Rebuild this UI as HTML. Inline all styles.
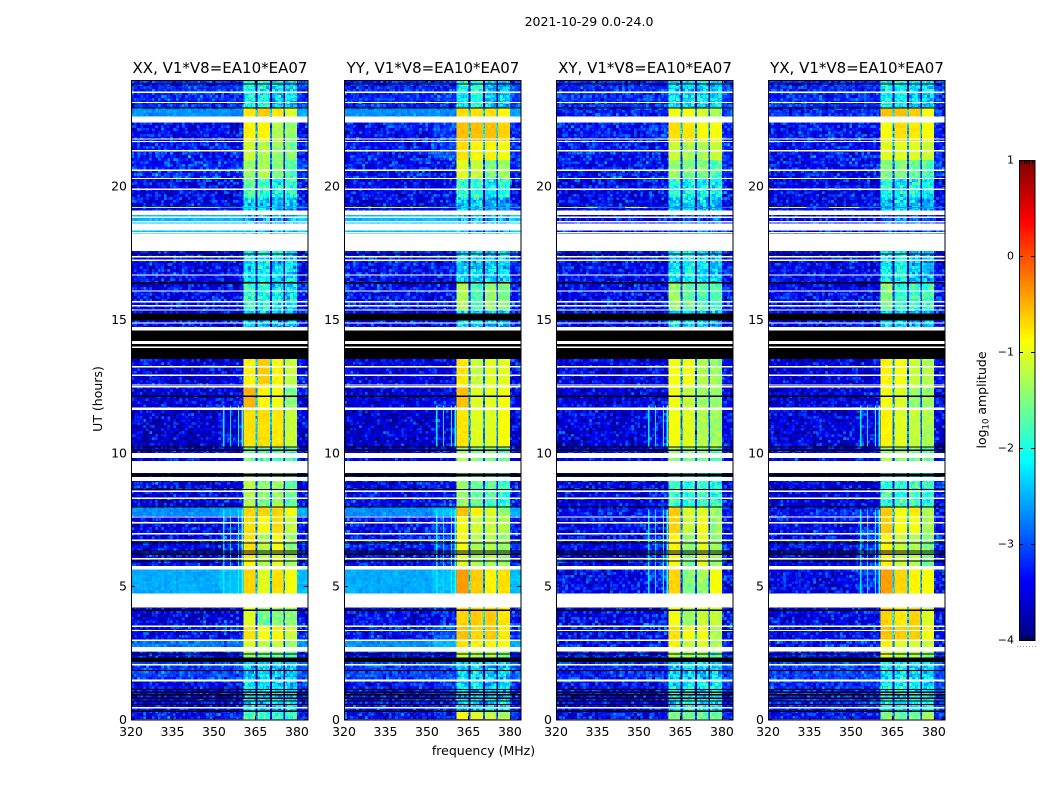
<!DOCTYPE html>
<html>
<head>
<meta charset="utf-8">
<title>2021-10-29 0.0-24.0</title>
<style>
html,body{margin:0;padding:0;background:#fff;width:1050px;height:800px;overflow:hidden}
svg{display:block}
text{font-family:"DejaVu Sans","Liberation Sans",sans-serif;fill:#000}
</style>
</head>
<body>
<svg id="chart" width="1050" height="800" viewBox="0 0 1050 800" xmlns="http://www.w3.org/2000/svg">
  <defs id="defs"></defs>
  <text x="589" y="26" font-size="12.5" text-anchor="middle">2021-10-29 0.0-24.0</text>
  <text x="102" y="399" font-size="12.5" text-anchor="middle" transform="rotate(-90 102 399)">UT (hours)</text>
  <text x="483.5" y="755" font-size="12.5" text-anchor="middle">frequency (MHz)</text>
  <text x="986" y="400" font-size="12.5" text-anchor="middle" transform="rotate(-90 986 400)">log<tspan font-size="8.5" dy="2.5">10</tspan><tspan dy="-2.5"> amplitude</tspan></text>
</svg>
<script>
// ---- data (hours, MHz, log10 amplitude) ----
const panelTitles = ['XX, V1*V8=EA10*EA07','YY, V1*V8=EA10*EA07','XY, V1*V8=EA10*EA07','YX, V1*V8=EA10*EA07'];
const xTickValues = [320,335,350,365,380];
const yTickValues = [0,5,10,15,20];
const colorbarTicks = [1,0,-1,-2,-3,-4];
const freqEdges = [320,352,360.6,365.1,365.7,370.3,370.9,375.1,375.7,380,384];
const timeEdges = [0,0.35,1.45,2.2,2.55,3.0,3.55,4.2,4.74,5.64,6.35,7.0,7.65,8.0,9.26,10.24,11.67,12.5,13.53,15.38,16.4,17.6,19.1,19.6,20.3,21.0,21.7,22.4,22.95,24];
// one row per time band: [background, near-band, subband 1, subband 2, subband 3, subband 4]
const levelsXX = [
[-3.1,-3.1,-1.5,-1.6,-1.7,-1.7],[-3.2,-3.2,-2.0,-2.1,-2.1,-2.1],[-2.9,-2.9,-2.2,-2.1,-2.2,-2.2],[-3.2,-3.2,-1.3,-1.5,-1.5,-1.6],
[-2.7,-2.7,-1.0,-1.2,-1.1,-1.3],[-3.2,-3.1,-0.7,-0.9,-0.8,-1.1],[-3.3,-3.2,-1.0,-1.5,-1.4,-1.4],[-3.2,-3.1,-0.9,-1.2,-0.9,-1.0],
[-2.5,-2.4,-0.65,-1.0,-0.7,-0.9],[-3.2,-3.1,-0.8,-1.2,-1.0,-1.2],[-3.2,-3.1,-0.7,-1.2,-0.9,-1.3],[-3.2,-3.1,-0.7,-0.9,-0.7,-1.1],
[-2.6,-2.5,-0.65,-0.65,-0.65,-0.9],[-3.3,-3.2,-1.2,-1.4,-1.3,-1.5],[-3.3,-3.2,-1.5,-1.6,-1.6,-1.7],[-3.4,-3.3,-0.7,-0.7,-0.75,-1.1],
[-3.3,-3.2,-0.5,-0.8,-0.9,-1.4],[-3.3,-3.3,-0.8,-0.6,-0.8,-1.1],[-3.2,-3.2,-2.1,-2.2,-2.3,-2.4],[-3.2,-3.2,-1.7,-1.8,-1.9,-2.0],
[-3.2,-3.2,-2.0,-1.9,-2.1,-2.1],[-2.4,-2.4,-2.3,-2.3,-2.4,-2.4],[-3.2,-3.2,-2.1,-2.0,-2.3,-2.3],[-3.2,-3.2,-1.6,-1.7,-1.9,-1.7],
[-3.0,-3.0,-1.3,-1.2,-1.4,-1.6],[-3.1,-3.1,-1.1,-1.2,-1.3,-1.4],[-3.2,-3.2,-0.8,-0.8,-1.2,-1.3],[-2.6,-2.6,-0.75,-0.6,-0.75,-1.0],
[-3.0,-3.0,-1.9,-1.9,-2.1,-2.1]];
const levelsYY = [
[-3.1,-3.1,-0.9,-1.0,-1.1,-1.2],[-3.1,-3.0,-2.1,-2.1,-2.2,-2.2],[-2.9,-2.9,-2.2,-2.1,-2.2,-2.1],[-3.2,-3.2,-1.1,-1.2,-1.2,-1.4],
[-2.6,-2.4,-0.7,-0.8,-0.8,-0.9],[-3.1,-2.8,-0.55,-0.65,-0.6,-0.75],[-3.2,-3.1,-0.65,-0.6,-0.6,-0.75],[-3.0,-2.9,-1.0,-1.0,-1.0,-1.0],
[-2.5,-2.4,-0.35,-0.6,-0.8,-0.7],[-3.1,-3.0,-1.0,-1.2,-1.2,-1.3],[-3.1,-3.0,-0.9,-1.2,-1.2,-1.3],[-3.1,-3.0,-0.9,-1.1,-1.1,-1.2],
[-2.6,-2.4,-0.55,-0.8,-1.0,-1.3],[-3.2,-3.1,-1.3,-1.5,-1.6,-1.8],[-3.3,-3.2,-1.2,-1.4,-1.4,-1.6],[-3.4,-3.3,-0.75,-1.0,-1.0,-0.9],
[-3.3,-3.2,-0.55,-1.0,-1.0,-0.9],[-3.3,-3.3,-0.75,-1.1,-1.0,-1.0],[-3.2,-3.2,-2.0,-2.1,-2.2,-2.3],[-3.1,-3.1,-1.2,-1.6,-1.3,-1.4],
[-3.1,-3.1,-2.1,-2.1,-2.2,-2.1],[-2.4,-2.4,-2.3,-2.3,-2.4,-2.4],[-3.2,-3.2,-2.2,-2.1,-2.4,-2.4],[-3.2,-3.2,-1.7,-1.7,-1.9,-1.8],
[-3.1,-3.1,-1.0,-1.1,-1.4,-1.3],[-3.1,-2.9,-0.7,-0.8,-0.8,-0.9],[-3.1,-2.9,-0.55,-0.55,-0.55,-0.65],[-2.6,-2.6,-0.7,-0.7,-0.7,-0.85],
[-3.0,-3.0,-1.9,-1.8,-2.2,-2.2]];
const levelsXY = [
[-3.1,-3.1,-1.4,-1.5,-1.5,-1.5],[-3.2,-3.2,-2.0,-1.9,-2.0,-2.0],[-3.0,-3.0,-2.1,-2.1,-2.2,-2.1],[-3.1,-3.1,-1.2,-1.3,-1.3,-1.6],
[-3.1,-3.0,-0.8,-1.1,-1.0,-1.2],[-3.2,-3.1,-0.7,-0.9,-0.9,-1.2],[-3.2,-3.1,-0.9,-1.3,-1.1,-1.1],[-3.2,-3.1,-0.8,-1.0,-0.9,-1.0],
[-3.2,-3.0,-0.65,-1.4,-1.3,-0.9],[-3.2,-3.0,-0.9,-1.4,-1.0,-1.3],[-3.2,-3.0,-0.8,-1.3,-1.0,-1.3],[-3.2,-3.1,-0.65,-1.1,-0.9,-1.3],
[-3.1,-3.0,-0.6,-1.0,-1.0,-1.3],[-3.3,-3.2,-1.7,-1.7,-1.7,-1.8],[-3.3,-3.2,-1.3,-1.4,-1.4,-1.6],[-3.3,-3.2,-0.9,-1.0,-1.2,-1.3],
[-3.3,-3.2,-0.9,-1.1,-1.3,-1.3],[-3.3,-3.3,-0.9,-0.9,-1.2,-1.3],[-3.2,-3.2,-2.0,-2.1,-2.2,-2.3],[-3.2,-3.2,-1.3,-1.5,-1.6,-1.6],
[-3.2,-3.2,-2.0,-1.9,-2.1,-2.2],[-3.2,-3.2,-2.8,-2.8,-2.8,-2.8],[-3.2,-3.2,-2.1,-2.1,-2.2,-2.3],[-3.2,-3.2,-1.8,-1.9,-1.9,-1.9],
[-3.1,-3.1,-1.3,-1.4,-1.4,-1.6],[-3.1,-3.1,-1.1,-1.2,-1.2,-1.1],[-3.1,-3.0,-0.7,-0.75,-0.9,-0.9],[-3.0,-3.0,-0.9,-0.9,-1.0,-1.2],
[-3.0,-3.0,-2.0,-2.0,-2.1,-2.1]];
const levelsYX = [
[-3.1,-3.1,-1.4,-1.5,-1.5,-1.3],[-3.0,-3.0,-1.9,-1.9,-2.0,-2.0],[-2.9,-2.9,-2.0,-2.0,-2.2,-2.1],[-3.1,-3.1,-1.0,-1.2,-1.2,-1.4],
[-3.1,-3.0,-0.8,-1.0,-1.0,-1.1],[-3.2,-3.1,-0.55,-0.6,-0.6,-0.9],[-3.2,-3.1,-0.65,-0.75,-0.65,-1.0],[-3.2,-3.1,-0.7,-1.0,-1.3,-1.3],
[-3.2,-3.0,-0.4,-0.65,-0.8,-0.9],[-3.2,-3.0,-0.8,-1.1,-1.2,-1.4],[-3.2,-3.0,-0.8,-1.1,-1.2,-1.4],[-3.2,-3.1,-0.6,-0.9,-0.9,-1.2],
[-3.1,-3.0,-0.6,-0.9,-0.75,-1.2],[-3.3,-3.2,-1.7,-1.7,-1.7,-1.8],[-3.3,-3.2,-1.3,-1.4,-1.4,-1.6],[-3.3,-3.2,-0.8,-1.0,-1.1,-1.2],
[-3.3,-3.2,-0.9,-1.0,-1.3,-1.3],[-3.3,-3.3,-0.8,-0.9,-1.1,-1.2],[-3.2,-3.2,-2.0,-2.1,-2.2,-2.3],[-3.2,-3.2,-1.4,-1.7,-1.7,-1.7],
[-3.2,-3.2,-2.0,-1.9,-2.2,-2.2],[-3.2,-3.2,-2.8,-2.8,-2.8,-2.8],[-3.2,-3.2,-2.1,-2.1,-2.2,-2.3],[-3.2,-3.2,-1.8,-1.9,-1.9,-1.9],
[-3.1,-3.1,-1.4,-1.4,-1.5,-1.6],[-3.1,-3.1,-1.0,-1.0,-1.0,-1.1],[-3.1,-3.1,-0.9,-0.7,-0.75,-0.9],[-3.0,-3.0,-0.55,-0.55,-0.6,-0.9],
[-3.0,-3.0,-1.9,-1.9,-2.1,-2.1]];
// flagged time ranges: no data (white) and zeroed data (black), in hours [start,end]
const blankHours = [[0.44,0.49],[1.45,1.52],[2.06,2.1],[2.56,2.73],[2.98,3.02],[3.34,3.38],[3.5,3.54],[4.21,4.74],[5.64,5.78],[6.03,6.07],[6.72,6.76],[6.97,7.01],[7.38,7.42],[7.6,7.64],[8.3,8.34],[8.56,8.6],[8.96,9.11],[9.26,9.71],[9.82,10.02],[11.63,11.71],[12.48,12.52],[12.55,12.59],[12.91,12.95],[13.23,13.27],[13.96,14.0],[14.1,14.22],[14.6,14.74],[14.87,14.91],[15.36,15.4],[15.52,15.56],[15.67,15.71],[16.07,16.11],[16.67,16.71],[17.23,17.27],[17.36,17.4],[17.59,18.22],[18.28,18.3],[18.35,18.62],[18.67,18.71],[18.82,18.88],[18.94,19.1],[19.89,19.93],[20.29,20.33],[20.6,20.64],[21.33,21.37],[21.68,21.72],[21.77,21.81],[22.4,22.63],[23.14,23.18],[23.53,23.57]];
const zeroHours = [[0.31,0.35],[0.56,0.6],[0.7,0.73],[0.81,0.84],[0.94,0.97],[1.03,1.06],[1.14,1.17],[1.85,1.88],[2.17,2.34],[2.47,2.5],[4.09,4.14],[5.94,5.98],[6.2,6.23],[6.25,6.28],[6.33,6.36],[6.62,6.66],[7.97,8.01],[8.63,8.67],[9.15,9.18],[9.21,9.24],[10.11,10.14],[10.22,10.26],[12.12,12.16],[13.53,13.95],[14.0,14.1],[14.22,14.6],[14.98,15.24],[16.38,16.42],[17.46,17.5],[22.93,22.97],[23.83,23.87]];
// narrow interference channels and the hour ranges in which they appear
const spikeChannels = [353.3,355.8,358.7,360];
const spikeHours = [[4.21,7.9],[10.24,11.8]];
const spikeLevels = [-2.2,-2.3,-2.1,-2.0];
// [hour, startMHz, endMHz, level] for the strong interference rows, per panel
const rfiXX = [[19.24,320,384,-2.5],[19.24,320,345,-1.2],[19.24,345,352,-1.6]];
const rfiYY = [[19.24,320,384,-2.5],[19.24,320,350,-1.0],[19.24,350,358,-1.8]];
const rfiXY = [[19.24,320,384,-2.7],[19.24,320,335,-1.2],[19.24,345,353,-1.0]];
const rfiYX = [[19.24,320,384,-2.7],[19.24,320,334,-0.9],[19.24,342,353,-0.9]];
const allLevels = [levelsXX,levelsYY,levelsXY,levelsYX];
const allRfi = [rfiXX,rfiYY,rfiXY,rfiYX];

// ---- layout and scales ----
const svg = document.getElementById('chart');
const defs = document.getElementById('defs');
const NS = 'http://www.w3.org/2000/svg';
const plotLefts = [131,344,556,768];
const plotW = 177, plotTop = 80, plotBottom = 720;
const cbLeft = 1019, cbW = 16, cbTop = 160, cbBottom = 640;
const xScale = (left, mhz) => left + (mhz - 320) * plotW / 64;
const yScale = h => plotBottom - h * (plotBottom - plotTop) / 24;
const cbScale = v => cbBottom - (v + 4) * (cbBottom - cbTop) / 5;
const norm = v => Math.max(0, Math.min(1, (v + 4) / 5));

function jet(v) {
  const t = norm(v);
  const c = x => Math.round(255 * Math.max(0, Math.min(1, x)));
  const r = Math.min(4 * t - 1.5, -4 * t + 4.5);
  const g = Math.min(4 * t - 0.5, -4 * t + 3.5);
  const b = Math.min(4 * t + 0.5, -4 * t + 2.5);
  return 'rgb(' + c(r) + ',' + c(g) + ',' + c(b) + ')';
}
function make(tag, attrs, parent) {
  const el = document.createElementNS(NS, tag);
  for (const k in attrs) el.setAttribute(k, attrs[k]);
  parent.appendChild(el);
  return el;
}
// column index -> index into a level row; gaps and tail derive from their neighbours
function columnLevel(row, col) {
  if (col === 0) return row[0];
  if (col === 1) return row[1];
  if (col === 9) return row[0] + 0.1;
  if (col % 2 === 0) return row[2 + (col - 2) / 2];
  return Math.min(row[2 + (col - 3) / 2], row[2 + (col - 1) / 2]) - 1.5;
}
// weak signals look noisy, strong ones clean
function grainStrength(v, col) {
  if (col < 2 || col === 9) return Math.max(0.2, Math.min(1, (-2.4 - v) / 0.7));
  return Math.max(0.1, Math.min(0.9, (-0.8 - v) / 1.3));
}
// cells are painted with (normalised level, grain strength); the filter adds
// receiver-noise texture (visual only, no data meaning) and then applies the jet colormap
function buildFilter(id, left, seed) {
  const c = 0.7, centre = 0.62;
  const base = 1 - c * (1 - centre);
  const f = make('filter', {id: id, filterUnits: 'userSpaceOnUse', x: left, y: plotTop, width: plotW, height: plotBottom - plotTop, 'color-interpolation-filters': 'sRGB'}, defs);
  make('feColorMatrix', {in: 'SourceGraphic', type: 'matrix', values: '0 1 0 0 0  0 1 0 0 0  0 1 0 0 0  0 0 0 0 1', result: 'amp'}, f);
  make('feColorMatrix', {in: 'SourceGraphic', type: 'matrix', values: '1 0 0 0 0  1 0 0 0 0  1 0 0 0 0  0 0 0 0 1', result: 'level'}, f);
  make('feTurbulence', {type: 'fractalNoise', baseFrequency: 0.83, numOctaves: 1, seed: seed}, f);
  make('feColorMatrix', {type: 'matrix', values: '1 0 0 0 0  1 0 0 0 0  1 0 0 0 0  0 0 0 0 1', result: 'n'}, f);
  make('feFlood', {x: left + 1, y: plotTop + 1, width: 1, height: 1, 'flood-color': '#000'}, f);
  make('feComposite', {x: left, y: plotTop, width: 3, height: 3}, f);
  make('feTile', {result: 'dots'}, f);
  make('feComposite', {in: 'n', in2: 'dots', operator: 'in'}, f);
  make('feMorphology', {operator: 'dilate', radius: 1, result: 'blocks'}, f);
  make('feComposite', {in: 'amp', in2: 'blocks', operator: 'arithmetic', k1: c, k2: -c * centre, k3: 0, k4: base, result: 'delta'}, f);
  make('feComposite', {in: 'level', in2: 'delta', operator: 'arithmetic', k1: 0, k2: 1, k3: 1, k4: -base, result: 'sum'}, f);
  const ct = make('feComponentTransfer', {in: 'sum'}, f);
  make('feFuncR', {type: 'table', tableValues: '0 0 0 0 0.5 1 1 1 0.5'}, ct);
  make('feFuncG', {type: 'table', tableValues: '0 0 0.5 1 1 1 0.5 0 0'}, ct);
  make('feFuncB', {type: 'table', tableValues: '0.5 1 1 1 0.5 0 0 0 0'}, ct);
}

plotLefts.forEach((left, p) => {
  const g = make('g', {'shape-rendering': 'crispEdges'}, svg);
  
  
  const levels = allLevels[p];
  buildFilter('heat' + p, left, p + 3);
  const cells = make('g', {filter: 'url(#heat' + p + ')'}, g);
  
  

  // heatmap cells
  for (let b = 0; b < timeEdges.length - 1; b++) {
    for (let c = 0; c < freqEdges.length - 1; c++) {
      const x0 = xScale(left, freqEdges[c]), x1 = xScale(left, freqEdges[c + 1]);
      const y1 = yScale(timeEdges[b]), y0 = yScale(timeEdges[b + 1]);
      const level = columnLevel(levels[b], c);
      const fill = 'rgb(' + Math.round(255 * norm(level)) + ',' + Math.round(255 * grainStrength(level, c)) + ',0)';
      const cell = make('rect', {x: x0, y: y0, width: x1 - x0, height: y1 - y0, fill: fill}, cells);
      
      
    }
  }

  // interference channels
  spikeHours.forEach(range => {
    spikeChannels.forEach((ch, i) => {
      const s = make('rect', {x: xScale(left, ch), y: yScale(range[1]), width: 1.2, height: yScale(range[0]) - yScale(range[1]), fill: jet(spikeLevels[i])}, g);
      
      
    });
  });
  allRfi[p].forEach(r => {
    const s = make('rect', {x: xScale(left, r[1]), y: yScale(r[0]), width: xScale(left, r[2]) - xScale(left, r[1]), height: 1.2, fill: jet(r[3])}, g);
    
    
  });

  // flagged rows
  blankHours.forEach(r => {
    const s = make('rect', {x: left, y: yScale(r[1]), width: plotW, height: Math.max(1.3, yScale(r[0]) - yScale(r[1])), fill: '#fff'}, g);
    
    
  });
  zeroHours.forEach(r => {
    const s = make('rect', {x: left, y: yScale(r[1]), width: plotW, height: Math.max(1.2, yScale(r[0]) - yScale(r[1])), fill: '#000'}, g);
    
    
  });

  // frame
  const frame = make('rect', {x: left + 0.5, y: plotTop + 0.5, width: plotW - 0.5, height: plotBottom - plotTop - 0.5, fill: 'none', stroke: '#000', 'stroke-width': 1}, svg);
  
  

  // title
  const title = make('text', {x: left + plotW / 2 + 0.5, y: 73, 'font-size': 15, 'text-anchor': 'middle'}, svg);
  title.textContent = panelTitles[p];
  
  

  // x ticks
  xTickValues.forEach(v => {
    const x = Math.round(xScale(left, v)) + 0.5;
    const t1 = make('line', {x1: x, x2: x, y1: plotBottom, y2: plotBottom - 4, stroke: '#000'}, svg);
    
    
    const t2 = make('line', {x1: x, x2: x, y1: plotTop, y2: plotTop + 4, stroke: '#000'}, svg);
    
    
    const l = make('text', {x: xScale(left, v), y: 736, 'font-size': 12.5, 'text-anchor': 'middle'}, svg);
    l.textContent = v;
    
    
  });
  // y ticks
  yTickValues.forEach(v => {
    const y = Math.round(yScale(v)) - 0.5;
    const t1 = make('line', {x1: left, x2: left + 4, y1: y, y2: y, stroke: '#000'}, svg);
    
    
    const t2 = make('line', {x1: left + plotW, x2: left + plotW - 4, y1: y, y2: y, stroke: '#000'}, svg);
    
    
    const l = make('text', {x: left - 4, y: yScale(v) + 4, 'font-size': 12.5, 'text-anchor': 'end'}, svg);
    l.textContent = v;
    
    
  });
});

// ---- colorbar ----
const cb = make('g', {'shape-rendering': 'crispEdges'}, svg);


for (let i = 0; i < 240; i++) {
  const v = -4 + 5 * i / 240;
  const s = make('rect', {x: cbLeft, y: cbScale(v + 5 / 240), width: cbW, height: (cbBottom - cbTop) / 240 + 0.5, fill: jet(v + 2.5 / 240)}, cb);
  
  
}
const cbFrame = make('rect', {x: cbLeft + 0.5, y: cbTop + 0.5, width: cbW - 0.5, height: cbBottom - cbTop, fill: 'none', stroke: '#000'}, cb);


colorbarTicks.forEach(v => {
  const y = Math.round(cbScale(v)) + 0.5;
  const t1 = make('line', {x1: cbLeft, x2: cbLeft + 4, y1: y, y2: y, stroke: '#000'}, cb);
  
  
  const t2 = make('line', {x1: cbLeft + cbW, x2: cbLeft + cbW - 4, y1: y, y2: y, stroke: '#000'}, cb);
  
  
  const l = make('text', {x: cbLeft - 5, y: cbScale(v) + 3.5, 'font-size': 11, 'text-anchor': 'end'}, svg);
  l.textContent = v < 0 ? '\u2212' + (-v) : String(v);
  
  
});
for (let i = 1; i < 6; i++) {
  const x = cbLeft + i * cbW / 6;
  const a = make('line', {x1: x, x2: x, y1: cbTop, y2: cbTop + 4, stroke: '#000'}, cb);
  
  
  const b = make('line', {x1: x, x2: x, y1: cbBottom, y2: cbBottom - 4, stroke: '#000'}, cb);
  
  
}
for (let i = 0; i < 7; i++) {
  const d = make('rect', {x: cbLeft - 2 + i * 3, y: 646, width: 1, height: 1, fill: '#999'}, cb);
  
  
}
</script>
</body>
</html>
